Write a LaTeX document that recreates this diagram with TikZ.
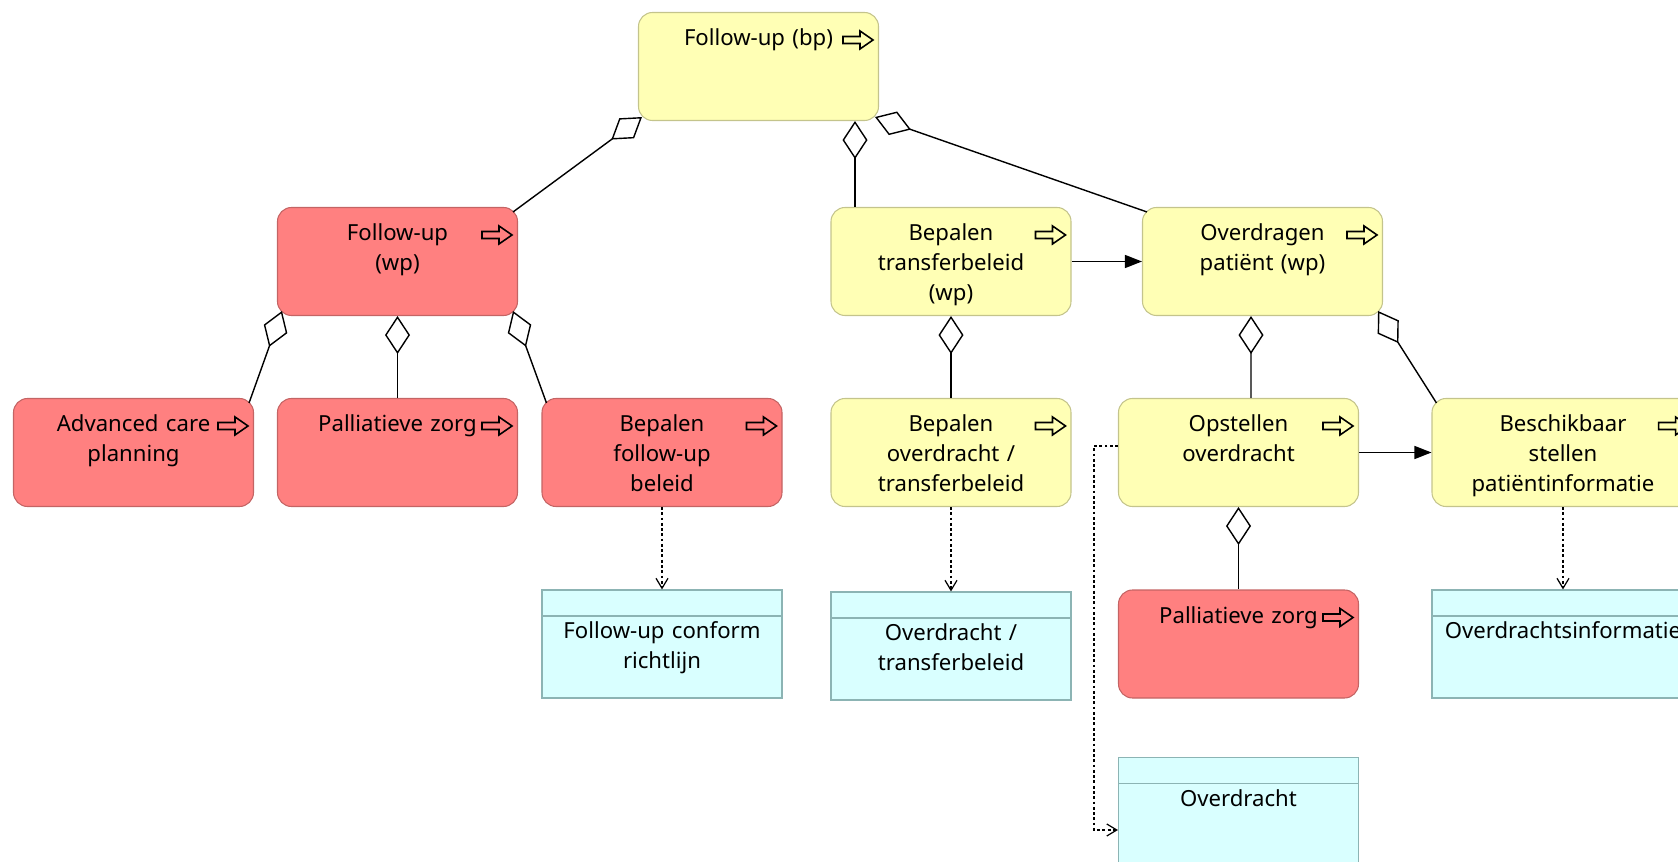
\documentclass[tikz,border=0pt]{standalone}
\usepackage{fontspec}
\setmainfont{Noto Sans}
\usepackage{xcolor}
\usepackage{tikz}
\usetikzlibrary{arrows.meta, positioning}

\definecolor{bpyellow}{RGB}{255,255,181}
\definecolor{bpedge}{RGB}{196,196,140}
\definecolor{wpred}{RGB}{255,128,128}
\definecolor{wpedge}{RGB}{196,100,100}
\definecolor{objcyan}{RGB}{217,255,255}
\definecolor{objedge}{RGB}{140,180,180}

\begin{document}
\begin{tikzpicture}[
    process/.style={rectangle, rounded corners=0.28cm, draw=bpedge, fill=bpyellow, line width=0.6pt, minimum width=4.8cm, minimum height=2.16cm, text width=4.4cm, align=center, inner ysep=0.34cm, text height=0.33cm, text depth=1.15cm, font=\fontsize{12.6}{17}\selectfont},
    workpkg/.style={process, draw=wpedge, fill=wpred},
    object/.style={rectangle, draw=objedge, fill=objcyan, line width=0.6pt, minimum width=4.8cm, minimum height=2.16cm, text width=4.4cm, align=center, inner ysep=0.64cm, text height=0.33cm, text depth=0.55cm, font=\fontsize{12.6}{17}\selectfont,
        path picture={\draw[objedge, line width=0.6pt] ([yshift=-0.52cm]path picture bounding box.north west) -- ([yshift=-0.52cm]path picture bounding box.north east);}},
    procicon/.style={line width=0.9pt, line join=miter},
    aggr/.style={{Diamond[open, length=0.76cm, width=0.5cm]}-, line width=0.8pt},
    trigger/.style={-{Triangle[length=0.34cm, width=0.26cm]}, line width=0.8pt},
    access/.style={-{Straight Barb[length=0.2cm, width=0.24cm]}, dash pattern=on 1.6pt off 1.4pt, line width=0.7pt}
]

\useasboundingbox (0, 0) rectangle (33.56, -17.24);
\clip (0, 0) rectangle (33.56, -17.24);

% Processes
\node[process] (followbp) at (15.17, -1.33) {Follow-up (bp)};
\node[workpkg] (followwp) at (7.95, -5.23) {Follow-up\\(wp)};
\node[process] (bepalentb) at (19.02, -5.23) {Bepalen\\transferbeleid\\(wp)};
\node[process] (overdragen) at (25.25, -5.23) {Overdragen\\patiënt (wp)};

\node[workpkg] (careplan) at (2.67, -9.05) {Advanced care\\planning};
\node[workpkg] (palliatief) at (7.95, -9.05) {Palliatieve zorg};
\node[workpkg] (bepalenfu) at (13.24, -9.05) {Bepalen\\follow-up\\beleid};
\node[process] (bepalenov) at (19.02, -9.05) {Bepalen\\overdracht /\\transferbeleid};
\node[process] (opstellen) at (24.77, -9.05) {Opstellen\\overdracht};
\node[process, minimum width=5.24cm, text width=4.8cm] (beschikbaar) at (31.26, -9.05) {Beschikbaar\\stellen\\patiëntinformatie};
\node[workpkg] (palliatief2) at (24.77, -12.88) {Palliatieve zorg};

% Business objects
\node[object] (fuconform) at (13.24, -12.88) {Follow-up conform\\richtlijn};
\node[object] (ovtransfer) at (19.02, -12.92) {Overdracht /\\transferbeleid};
\node[object, minimum width=5.24cm, text width=4.8cm] (ovinfo) at (31.26, -12.88) {Overdrachtsinformatie};
\node[object] (overdracht) at (24.77, -16.23) {Overdracht};

% Process icons
\foreach \n in {followbp, followwp, bepalentb, overdragen, careplan, palliatief, bepalenfu, bepalenov, opstellen, beschikbaar, palliatief2}
  \draw[procicon] ([xshift=-0.72cm, yshift=-0.49cm]\n.north east) -- ++(0.34, 0) -- ++(0, 0.11) -- ++(0.26, -0.18) -- ++(-0.26, -0.18) -- ++(0, 0.11) -- ++(-0.34, 0) -- cycle;

% Follow-up (bp) - children (aggregation)
\coordinate (tbjoint) at ([xshift=-1.92cm]bepalentb.north);
\draw[aggr] ([shift={(0.08, 0.08)}]followbp.south west) -- ([shift={(-0.1, -0.1)}]followwp.north east);
\draw[aggr] (followbp.south -| tbjoint) -- (tbjoint);
\draw[aggr] ([shift={(-0.08, 0.08)}]followbp.south east) -- ([shift={(0.1, -0.1)}]overdragen.north west);

% Follow-up (wp) - children (aggregation)
\draw[aggr] ([shift={(0.1, 0.1)}]followwp.south west) -- ([shift={(-0.1, -0.1)}]careplan.north east);
\draw[aggr] (followwp.south) -- (palliatief.north);
\draw[aggr] ([shift={(-0.1, 0.1)}]followwp.south east) -- ([shift={(0.1, -0.1)}]bepalenfu.north west);

% Bepalen transferbeleid / Overdragen - children (aggregation)
\draw[aggr] (bepalentb.south) -- (bepalenov.north);
\draw[aggr] ([xshift=-0.23cm]overdragen.south) -- ([xshift=0.25cm]opstellen.north);
\draw[aggr] ([shift={(-0.1, 0.1)}]overdragen.south east) -- ([shift={(0.1, -0.1)}]beschikbaar.north west);
\draw[aggr] (opstellen.south) -- (palliatief2.north);

% Triggering
\draw[trigger] (bepalentb.east) -- (overdragen.west);
\draw[trigger] (opstellen.east) -- (beschikbaar.west);

% Access
\draw[access] (bepalenfu.south) -- (fuconform.north);
\draw[access] (bepalenov.south) -- (ovtransfer.north);
\draw[access] (beschikbaar.south) -- (ovinfo.north);
\draw[access] ([yshift=0.13cm]opstellen.west) -- ++(-0.48, 0) |- ([yshift=-0.37cm]overdracht.west);

\end{tikzpicture}
\end{document}
